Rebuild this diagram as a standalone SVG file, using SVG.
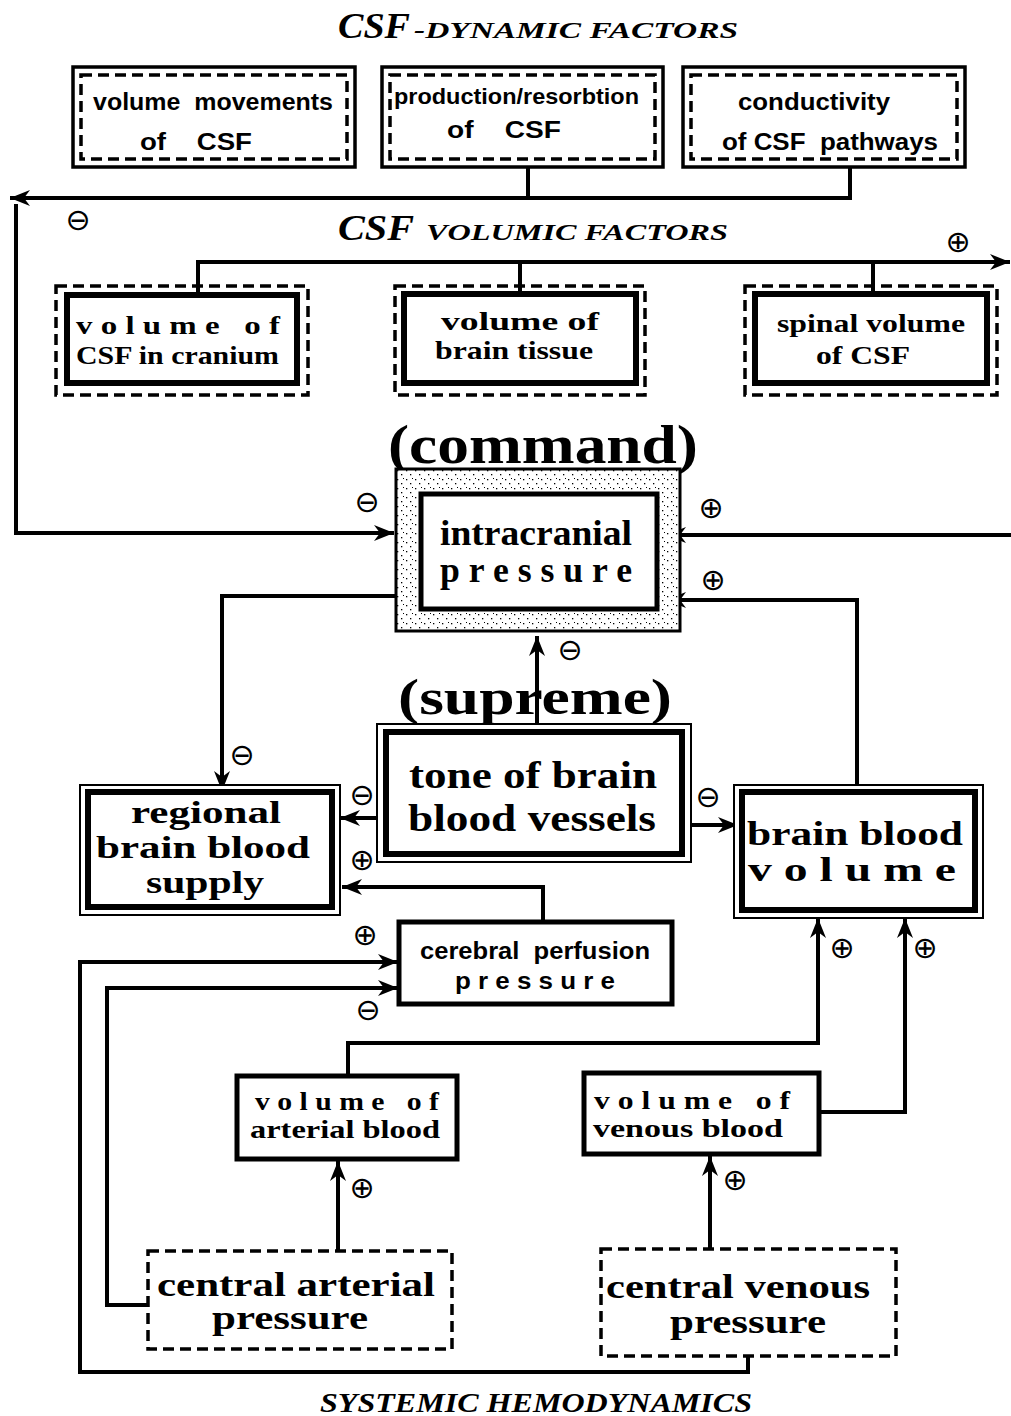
<svg xmlns="http://www.w3.org/2000/svg" width="1011" height="1416" viewBox="0 0 1011 1416">
<style>
.bg{fill:#fff}
text{white-space:pre}
.solid3{fill:#fff;stroke:#000;stroke-width:3.5}
.dash{fill:none;stroke:#000;stroke-width:3.5;stroke-dasharray:11 6}
.thick{fill:#fff;stroke:#000;stroke-width:6}
.thin{fill:#fff;stroke:#000;stroke-width:2}
.box4{fill:#fff;stroke:#000;stroke-width:5}
.conn{fill:none;stroke:#000;stroke-width:4}
.sans{font-family:"Liberation Sans",Arial,sans-serif;font-weight:bold;fill:#000}
.serif{font-family:"Liberation Serif","Times New Roman",serif;font-weight:bold;fill:#000}
.ital{font-family:"Liberation Serif","Times New Roman",serif;font-style:italic;font-weight:bold;fill:#000}
.sign{font-family:"DejaVu Sans",sans-serif;font-size:30px;fill:#000}
</style>
<defs>
<marker id="arr" markerUnits="userSpaceOnUse" markerWidth="22" markerHeight="18" refX="20" refY="9" orient="auto">
<path d="M0,1 L20,9 L0,17 L6,9 z" fill="#000"/>
</marker>
<pattern id="stip" width="9" height="9" patternUnits="userSpaceOnUse">
<rect width="9" height="9" fill="#fff"/>
<rect x="1" y="2" width="1.3" height="1.3" fill="#000"/>
<rect x="5" y="6" width="1.3" height="1.3" fill="#000"/>
<rect x="7" y="1" width="1" height="1" fill="#000"/>
</pattern>
</defs>
<rect class="bg" width="1011" height="1416"/>

<g id="titles">
<text class="ital" x="338" y="38" font-size="36" textLength="72" lengthAdjust="spacingAndGlyphs">CSF</text>
<text class="ital" x="414" y="38" font-size="24" textLength="324" lengthAdjust="spacingAndGlyphs">-DYNAMIC FACTORS</text>
<text class="ital" x="338" y="240" font-size="36" textLength="76" lengthAdjust="spacingAndGlyphs">CSF</text>
<text class="ital" x="426" y="240" font-size="24" textLength="302" lengthAdjust="spacingAndGlyphs">VOLUMIC FACTORS</text>
<text class="ital" x="320" y="1412" font-size="28" font-weight="normal" textLength="432" lengthAdjust="spacingAndGlyphs">SYSTEMIC HEMODYNAMICS</text>
<text class="serif" x="388" y="463" font-size="54" textLength="310" lengthAdjust="spacingAndGlyphs">(command)</text>
</g>

<g id="connectors">
<path class="conn" d="M528 167 V198"/>
<path class="conn" d="M850 167 V198 H10" marker-end="url(#arr)"/>
<path class="conn" d="M16 204 V533 H394" marker-end="url(#arr)"/>
<path class="conn" d="M198 295 V262 H1010" marker-end="url(#arr)"/>
<path class="conn" d="M520 262 V293"/>
<path class="conn" d="M873 262 V293"/>
<path class="conn" d="M1011 535 H666" marker-end="url(#arr)"/>
<path class="conn" d="M857 786 V600 H666" marker-end="url(#arr)"/>
<path class="conn" d="M395 596 H222 V791" marker-end="url(#arr)"/>
<path class="conn" d="M537 724 V636" marker-end="url(#arr)"/>
<path class="conn" d="M385 818 H340" marker-end="url(#arr)"/>
<path class="conn" d="M543 921 V887 H342" marker-end="url(#arr)"/>
<path class="conn" d="M683 825 H738" marker-end="url(#arr)"/>
<path class="conn" d="M748 1357 V1372 H80 V962 H398" marker-end="url(#arr)"/>
<path class="conn" d="M147 1305 H107 V988 H398" marker-end="url(#arr)"/>
<path class="conn" d="M348 1075 V1043 H818 V918" marker-end="url(#arr)"/>
<path class="conn" d="M820 1112 H905 V918" marker-end="url(#arr)"/>
<path class="conn" d="M338 1250 V1161" marker-end="url(#arr)"/>
<path class="conn" d="M710 1248 V1156" marker-end="url(#arr)"/>
</g>

<g id="signs">
<text class="sign" x="78" y="230" text-anchor="middle">⊖</text>
<text class="sign" x="958" y="252" text-anchor="middle">⊕</text>
<text class="sign" x="367" y="512" text-anchor="middle">⊖</text>
<text class="sign" x="711" y="518" text-anchor="middle">⊕</text>
<text class="sign" x="713" y="590" text-anchor="middle">⊕</text>
<text class="sign" x="570" y="660" text-anchor="middle" font-size="26">⊖</text>
<text class="sign" x="242" y="765" text-anchor="middle">⊖</text>
<text class="sign" x="362" y="805" text-anchor="middle">⊖</text>
<text class="sign" x="362" y="870" text-anchor="middle">⊕</text>
<text class="sign" x="708" y="807" text-anchor="middle">⊖</text>
<text class="sign" x="365" y="945" text-anchor="middle">⊕</text>
<text class="sign" x="368" y="1020" text-anchor="middle">⊖</text>
<text class="sign" x="842" y="958" text-anchor="middle">⊕</text>
<text class="sign" x="925" y="958" text-anchor="middle">⊕</text>
<text class="sign" x="362" y="1198" text-anchor="middle">⊕</text>
<text class="sign" x="735" y="1190" text-anchor="middle">⊕</text>
</g>

<g id="volume-movements">
<rect class="solid3" x="73" y="67" width="282" height="100"/>
<rect class="dash" x="81" y="75" width="266" height="84"/>
<text class="sans" x="93" y="110" font-size="23" textLength="240" lengthAdjust="spacingAndGlyphs">volume  movements</text>
<text class="sans" x="140" y="150" font-size="23" textLength="112" lengthAdjust="spacingAndGlyphs">of    CSF</text>
</g>
<g id="production-resorbtion">
<rect class="solid3" x="382" y="67" width="281" height="100"/>
<rect class="dash" x="390" y="75" width="265" height="84"/>
<text class="sans" x="394" y="104" font-size="22" textLength="245" lengthAdjust="spacingAndGlyphs">production/resorbtion</text>
<text class="sans" x="447" y="138" font-size="23" textLength="114" lengthAdjust="spacingAndGlyphs">of    CSF</text>
</g>
<g id="conductivity">
<rect class="solid3" x="683" y="67" width="282" height="100"/>
<rect class="dash" x="691" y="75" width="266" height="84"/>
<text class="sans" x="738" y="110" font-size="23" textLength="152" lengthAdjust="spacingAndGlyphs">conductivity</text>
<text class="sans" x="722" y="150" font-size="23" textLength="216" lengthAdjust="spacingAndGlyphs">of CSF  pathways</text>
</g>

<g id="volume-csf-cranium">
<rect class="dash" x="56" y="286" width="252" height="109"/>
<rect class="thick" x="67" y="295" width="230" height="88"/>
<text class="serif" x="76" y="334" font-size="25" textLength="204" lengthAdjust="spacingAndGlyphs">v o l u m e   o f</text>
<text class="serif" x="76" y="364" font-size="25" textLength="203" lengthAdjust="spacingAndGlyphs">CSF in cranium</text>
</g>
<g id="volume-brain-tissue">
<rect class="dash" x="395" y="286" width="250" height="109"/>
<rect class="thick" x="404" y="294" width="232" height="89"/>
<text class="serif" x="520" y="330" font-size="26" text-anchor="middle" textLength="158" lengthAdjust="spacingAndGlyphs">volume of</text>
<text class="serif" x="514" y="359" font-size="26" text-anchor="middle" textLength="158" lengthAdjust="spacingAndGlyphs">brain tissue</text>
</g>
<g id="spinal-volume">
<rect class="dash" x="745" y="286" width="252" height="109"/>
<rect class="thick" x="755" y="294" width="232" height="89"/>
<text class="serif" x="871" y="332" font-size="26" text-anchor="middle" textLength="188" lengthAdjust="spacingAndGlyphs">spinal volume</text>
<text class="serif" x="863" y="364" font-size="26" text-anchor="middle" textLength="94" lengthAdjust="spacingAndGlyphs">of CSF</text>
</g>

<g id="intracranial-pressure">
<rect x="396" y="469" width="284" height="162" fill="url(#stip)" stroke="#000" stroke-width="3"/>
<rect class="box4" x="421" y="494" width="236" height="115" stroke-width="4"/>
<text class="serif" x="536" y="545" font-size="36" text-anchor="middle" textLength="192" lengthAdjust="spacingAndGlyphs">intracranial</text>
<text class="serif" x="536" y="582" font-size="36" text-anchor="middle" textLength="192" lengthAdjust="spacingAndGlyphs">p r e s s u r e</text>
</g>

<g id="tone-vessels">
<text class="serif" x="398" y="714" font-size="50" textLength="274" lengthAdjust="spacingAndGlyphs">(supreme)</text>
<rect class="thin" x="377" y="724" width="314" height="138"/>
<rect class="thick" x="386" y="732" width="296" height="122"/>
<text class="serif" x="533" y="788" font-size="38" text-anchor="middle" textLength="248" lengthAdjust="spacingAndGlyphs">tone of brain</text>
<text class="serif" x="532" y="831" font-size="38" text-anchor="middle" textLength="248" lengthAdjust="spacingAndGlyphs">blood vessels</text>
</g>

<g id="regional-supply">
<rect class="thin" x="80" y="785" width="260" height="130"/>
<rect class="thick" x="88" y="792" width="244" height="115"/>
<text class="serif" x="206" y="823" font-size="32" text-anchor="middle" textLength="150" lengthAdjust="spacingAndGlyphs">regional</text>
<text class="serif" x="203" y="858" font-size="32" text-anchor="middle" textLength="214" lengthAdjust="spacingAndGlyphs">brain blood</text>
<text class="serif" x="205" y="893" font-size="32" text-anchor="middle" textLength="118" lengthAdjust="spacingAndGlyphs">supply</text>
</g>

<g id="brain-blood-volume">
<rect class="thin" x="734" y="785" width="249" height="133"/>
<rect class="thick" x="742" y="792" width="233" height="118"/>
<text class="serif" x="855" y="845" font-size="34" text-anchor="middle" textLength="216" lengthAdjust="spacingAndGlyphs">brain blood</text>
<text class="serif" x="852" y="881" font-size="34" text-anchor="middle" textLength="208" lengthAdjust="spacingAndGlyphs">v o l u m e</text>
</g>

<g id="cerebral-perfusion">
<rect class="box4" x="399" y="922" width="273" height="82"/>
<text class="sans" x="535" y="959" font-size="23" text-anchor="middle" textLength="230" lengthAdjust="spacingAndGlyphs">cerebral  perfusion</text>
<text class="sans" x="535" y="989" font-size="23" text-anchor="middle" textLength="160" lengthAdjust="spacingAndGlyphs">p r e s s u r e</text>
</g>

<g id="arterial-blood">
<rect class="box4" x="237" y="1076" width="220" height="83"/>
<text class="serif" x="347" y="1110" font-size="26" text-anchor="middle" textLength="184" lengthAdjust="spacingAndGlyphs">v o l u m e   o f</text>
<text class="serif" x="345" y="1138" font-size="26" text-anchor="middle" textLength="190" lengthAdjust="spacingAndGlyphs">arterial blood</text>
</g>
<g id="venous-blood">
<rect class="box4" x="584" y="1073" width="235" height="81"/>
<text class="serif" x="692" y="1109" font-size="26" text-anchor="middle" textLength="196" lengthAdjust="spacingAndGlyphs">v o l u m e   o f</text>
<text class="serif" x="688" y="1137" font-size="26" text-anchor="middle" textLength="190" lengthAdjust="spacingAndGlyphs">venous blood</text>
</g>

<g id="central-arterial">
<rect class="dash" x="148" y="1251" width="304" height="98"/>
<text class="serif" x="296" y="1296" font-size="33" text-anchor="middle" font-weight="normal" textLength="278" lengthAdjust="spacingAndGlyphs">central arterial</text>
<text class="serif" x="290" y="1329" font-size="33" text-anchor="middle" font-weight="normal" textLength="156" lengthAdjust="spacingAndGlyphs">pressure</text>
</g>
<g id="central-venous">
<rect class="dash" x="601" y="1249" width="295" height="107"/>
<text class="serif" x="738" y="1298" font-size="33" text-anchor="middle" font-weight="normal" textLength="264" lengthAdjust="spacingAndGlyphs">central venous</text>
<text class="serif" x="748" y="1333" font-size="33" text-anchor="middle" font-weight="normal" textLength="156" lengthAdjust="spacingAndGlyphs">pressure</text>
</g>
</svg>
